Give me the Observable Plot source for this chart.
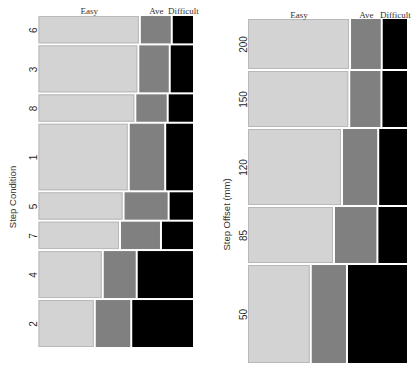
<!DOCTYPE html>
<html><head><meta charset="utf-8">
<script src="https://cdn.jsdelivr.net/npm/d3@7"></script>
<script src="https://cdn.jsdelivr.net/npm/@observablehq/plot@0.6"></script>
<style>
body{margin:0;background:#fff;}
#wrap{position:relative;width:419px;height:370px;overflow:hidden;}
#left{position:absolute;left:0;top:0;}
#right{position:absolute;left:210px;top:0;}
</style></head><body>
<div id="wrap"><div id="left"></div><div id="right"></div></div>
<script>
// Levels
const levels = ["Easy", "Ave", "Difficult"];
const levelColors = ["#d3d3d3", "#808080", "#000000"];

// Left panel: Step Condition
const conditionCats = ["6", "3", "8", "1", "5", "7", "4", "2"];
const conditionCounts = [3, 5, 3, 7, 3, 3, 5, 5];
const conditionEasy = [0.654, 0.644, 0.625, 0.583, 0.550, 0.527, 0.417, 0.366];
const conditionAve  = [0.204, 0.201, 0.207, 0.233, 0.288, 0.262, 0.217, 0.233];
const conditionDiff = [0.142, 0.155, 0.168, 0.184, 0.162, 0.211, 0.366, 0.401];

// Right panel: Step Offset (mm)
const offsetCats = ["200", "150", "120", "85", "50"];
const offsetCounts = [26, 29, 39, 29, 50];
const offsetEasy = [0.640, 0.635, 0.590, 0.540, 0.396];
const offsetAve  = [0.197, 0.200, 0.225, 0.270, 0.225];
const offsetDiff = [0.163, 0.165, 0.185, 0.190, 0.379];

function mosaic(cats, counts, easy, ave, diff) {
  const rows = [];
  const labels = [];
  let cum = 0;
  cats.forEach((c, i) => {
    const shares = [easy[i], ave[i], diff[i]];
    let x = 0;
    shares.forEach((s, j) => {
      rows.push({cat: c, row: i, level: levels[j], x1: x, x2: x + s, y1: cum, y2: cum + counts[i]});
      x += s;
    });
    labels.push({cat: c, y1: cum, y2: cum + counts[i]});
    cum += counts[i];
  });
  return {rows, labels, total: cum};
}

function draw(el, cfg) {
  const m = mosaic(cfg.cats, cfg.counts, cfg.easy, cfg.ave, cfg.diff);
  const chart = Plot.plot({
    width: cfg.width, height: 370,
    marginLeft: cfg.ml, marginRight: cfg.mr, marginTop: cfg.mt, marginBottom: cfg.mb,
    style: {background: "transparent", overflow: "visible"},
    x: {domain: [0, 1], axis: null},
    y: {domain: [0, m.total], reverse: true, axis: null},
    color: {domain: levels, range: levelColors},
    marks: [
      Plot.rect(m.rows, {x1: "x1", x2: "x2", y1: "y1", y2: "y2", fill: "level",
        inset: 1}),
      Plot.rect(m.rows.filter(d => d.level === "Easy"), {x1: "x1", x2: "x2", y1: "y1", y2: "y2",
        fill: "none", stroke: "#b9b9b9", strokeWidth: 1, inset: 1.5}),
      Plot.text(m.labels, {x: 0, y: d => (d.y1 + d.y2) / 2, text: "cat", rotate: -90,
        dx: cfg.tickDx, fontSize: 10, fontFamily: "Liberation Sans, Arial, sans-serif", fill: "#2a2a2a"}),
      Plot.text(m.rows.filter(d => d.row === 0), {x: d => (d.x1 + d.x2) / 2, y: 0, text: "level",
        dy: cfg.headDy, fontSize: 9, fontFamily: "Liberation Serif, Times New Roman, serif", fill: "#333"}),
      Plot.text([cfg.title], {frameAnchor: "left", textAnchor: "middle", rotate: -90, dx: cfg.titleDx, dy: cfg.titleDy,
        fontSize: 9.5, fontFamily: "Liberation Sans, Arial, sans-serif", fill: "#333"})
    ]
  });
  el.appendChild(chart);
}

draw(document.getElementById("left"), {
  cats: conditionCats, counts: conditionCounts, easy: conditionEasy, ave: conditionAve, diff: conditionDiff,
  width: 210, ml: 37.5, mr: 16, mt: 15, mb: 22,
  tickDx: -4.5, headDy: -4, title: "Step Condition", titleDx: -25, titleDy: 15
});
draw(document.getElementById("right"), {
  cats: offsetCats, counts: offsetCounts, easy: offsetEasy, ave: offsetAve, diff: offsetDiff,
  width: 209, ml: 37, mr: 11, mt: 18, mb: 6,
  tickDx: -3.5, headDy: -3.5, title: "Step Offset (mm)", titleDx: -21, titleDy: 23
});
</script>
</body></html>
